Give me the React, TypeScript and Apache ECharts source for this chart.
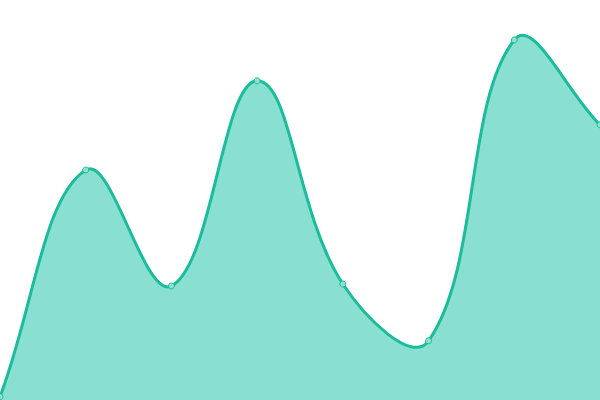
import * as echarts from "echarts"
import { useEffect, useRef } from "react"

const categories = ["1", "2", "3", "4", "5", "6", "7", "8"]
const values = [8, 575, 285, 798, 290, 148, 900, 688]

const TENSION = 0.4

// cardinal spline through the given pixel points (overshoots like the reference)
const splinePath = (pts: number[][]) => {
    const cps: number[][][] = pts.map((cur, i) => {
        const prev = pts[i - 1] || cur
        const next = pts[i + 1] || cur
        const d01 = Math.hypot(cur[0] - prev[0], cur[1] - prev[1])
        const d12 = Math.hypot(next[0] - cur[0], next[1] - cur[1])
        const tot = d01 + d12 || 1
        const fa = TENSION * d01 / tot
        const fb = TENSION * d12 / tot
        const vx = next[0] - prev[0]
        const vy = next[1] - prev[1]
        return [
            [cur[0] - fa * vx, cur[1] - fa * vy],
            [cur[0] + fb * vx, cur[1] + fb * vy]
        ]
    })
    let d = `M${pts[0][0]},${pts[0][1]}`
    for (let i = 1; i < pts.length; i++) {
        const c1 = cps[i - 1][1]
        const c2 = cps[i][0]
        d += ` C${c1[0]},${c1[1]} ${c2[0]},${c2[1]} ${pts[i][0]},${pts[i][1]}`
    }
    return d
}

const App: React.FC = () => {
    const divRef = useRef<HTMLDivElement | null>(null)

    useEffect(() => {
        const chart = echarts.init(divRef.current!, null, { renderer: "svg" })
        chart.setOption({
            animation: false,
            grid: { left: 0, right: 0, top: 0, bottom: 0 },
            xAxis: {
                type: "category",
                data: categories,
                boundaryGap: false,
                show: false
            },
            yAxis: {
                type: "value",
                min: 0,
                max: 1000,
                show: false
            },
            series: [
                {
                    type: "custom",
                    data: values.map((v, i) => [i, v]),
                    clip: false,
                    z: 1,
                    renderItem: (params: any, api: any) => {
                        if (params.dataIndex !== 0) return null
                        const pts = values.map((v, i) => api.coord([i, v]))
                        const base = api.coord([0, 0])[1]
                        const line = splinePath(pts)
                        const last = pts[pts.length - 1]
                        const area = `${line} L${last[0]},${base} L${pts[0][0]},${base} Z`
                        return {
                            type: "group",
                            children: [
                                {
                                    type: "path",
                                    shape: { pathData: area },
                                    style: { fill: "#8ae0d0", stroke: "none" }
                                },
                                {
                                    type: "path",
                                    shape: { pathData: line },
                                    style: { fill: "none", stroke: "#1abc9c", lineWidth: 3 }
                                }
                            ]
                        }
                    }
                },
                {
                    type: "scatter",
                    data: values,
                    z: 3,
                    symbol: "circle",
                    symbolSize: 6,
                    itemStyle: { color: "#8ee0d1", borderColor: "#1abc9c", borderWidth: 1, opacity: 1 }
                }
            ]
        })
        return () => chart.dispose()
    }, [])

    return <div ref={divRef} style={{ position: "fixed", left: 0, top: 0, width: 600, height: 400 }}></div>
}

export default App
